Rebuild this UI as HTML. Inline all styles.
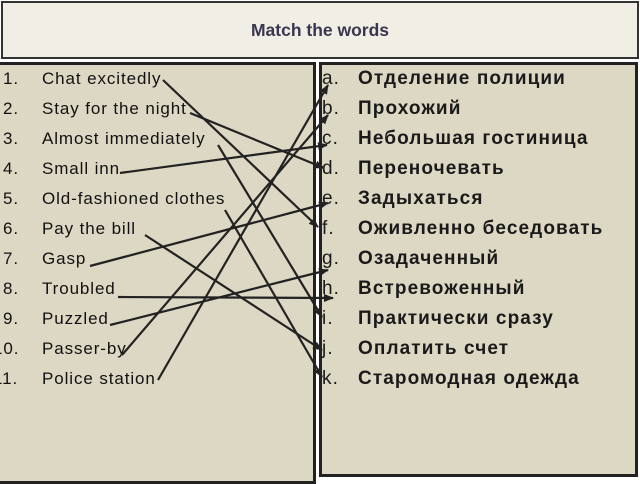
<!DOCTYPE html>
<html><head><meta charset="utf-8"><style>
body{margin:0;width:640px;height:480px;background:#fff;position:relative;overflow:hidden;font-family:"Liberation Sans",sans-serif}
.box{position:absolute;box-sizing:border-box;border:2px solid #222;background:#ddd8c3}
.t{position:absolute;white-space:nowrap;color:#111}
.l{font-size:17px;letter-spacing:0.9px}
.r{font-size:19px;font-weight:bold;color:#1a1a1a;letter-spacing:1.1px}
</style></head><body>
<div class="box" style="left:1px;top:1px;width:638px;height:58px;background:#f0eee5;border-color:#333"></div>
<div class="t" style="left:0;width:640px;text-align:center;top:20px;font-size:17.5px;font-weight:bold;color:#3b3550">Match the words</div>
<div class="box" style="left:-3px;top:62px;width:319px;height:422px;border-width:3px"></div>
<div class="box" style="left:319px;top:62px;width:319px;height:415px;border-width:3px;box-shadow:-3px 0 0 #fff,-5px 0 0 #222"></div>
<div id="L"></div>
<svg style="position:absolute;left:0;top:0" width="640" height="480">
<defs><marker id="a" markerWidth="10" markerHeight="8" refX="9" refY="4" orient="auto" markerUnits="userSpaceOnUse"><path d="M0,0L10,4L0,8z" fill="#222"/></marker></defs>
<g stroke="#222" stroke-width="2.2" fill="none" marker-end="url(#a)">
<line x1="163" y1="80" x2="318" y2="227"/>
<line x1="190" y1="113" x2="324" y2="168"/>
<line x1="218" y1="145" x2="322" y2="317"/>
<line x1="120" y1="173" x2="327" y2="145"/>
<line x1="225" y1="210" x2="322" y2="377"/>
<line x1="145" y1="235" x2="322" y2="350"/>
<line x1="90" y1="266" x2="328" y2="203"/>
<line x1="118" y1="297" x2="333" y2="298"/>
<line x1="110" y1="325" x2="328" y2="270"/>
<line x1="122" y1="355" x2="328" y2="115"/>
<line x1="158" y1="380" x2="328" y2="85"/>
</g></svg>
<script>
var L=["Chat excitedly","Stay for the night","Almost immediately","Small inn","Old-fashioned clothes","Pay the bill","Gasp","Troubled","Puzzled","Passer-by","Police station"];
var R=["Отделение полиции","Прохожий","Небольшая гостиница","Переночевать","Задыхаться","Оживленно беседовать","Озадаченный","Встревоженный","Практически сразу","Оплатить счет","Старомодная одежда"];
var h="";
for(var i=0;i<11;i++){var y=69+i*30;
h+='<div class="t l" style="left:'+(i<9?3:-7)+'px;top:'+y+'px">'+(i+1)+'.</div><div class="t l" style="left:42px;top:'+y+'px">'+L[i]+'</div>';
h+='<div class="t r" style="left:322px;top:'+(y-1)+'px;font-weight:normal">'+"abcdefghijk"[i]+'.</div><div class="t r" style="left:358px;top:'+(y-1)+'px">'+R[i]+'</div>';}
document.getElementById("L").innerHTML=h;
</script>
</body></html>
